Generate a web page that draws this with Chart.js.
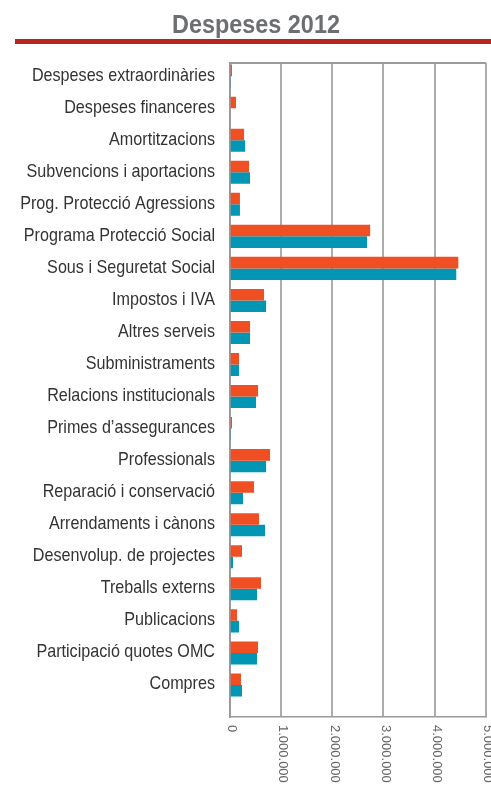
<!DOCTYPE html>
<html>
<head>
<meta charset="utf-8">
<script src="https://cdn.jsdelivr.net/npm/chart.js@4/dist/chart.umd.min.js"></script>
<style>
  html, body { margin: 0; padding: 0; background: #ffffff; }
  #wrap { position: relative; width: 491px; height: 791px; }
</style>
</head>
<body>
<div id="wrap"><canvas id="c"></canvas></div>
<script>
// ---- data ----
const categories = [
  "Despeses extraordinàries",
  "Despeses financeres",
  "Amortitzacions",
  "Subvencions i aportacions",
  "Prog. Protecció Agressions",
  "Programa Protecció Social",
  "Sous i Seguretat Social",
  "Impostos i IVA",
  "Altres serveis",
  "Subministraments",
  "Relacions institucionals",
  "Primes d’assegurances",
  "Professionals",
  "Reparació i conservació",
  "Arrendaments i cànons",
  "Desenvolup. de projectes",
  "Treballs externs",
  "Publicacions",
  "Participació quotes OMC",
  "Compres"
];
const seriesOrange = [45000, 123000, 280000, 377000, 200000, 2740000, 4460000, 670000, 397000, 182000, 553000, 45000, 787000, 475000, 572000, 240000, 611000, 143000, 553000, 220000];
const seriesTeal   = [25000, 0, 300000, 397000, 200000, 2680000, 4420000, 710000, 397000, 182000, 514000, 25000, 710000, 260000, 690000, 65000, 533000, 182000, 533000, 240000];
const xTicks = [0, 1000000, 2000000, 3000000, 4000000, 5000000];
const titleText = "Despeses 2012";

const fmt = v => String(v).replace(/\B(?=(\d{3})+(?!\d))/g, ".");
const toPoints = arr => arr.map((v, i) => ({ x: v, y: i }));

const decor = {
  id: 'decor',
  beforeDraw(chart) {
    const ctx = chart.ctx;
    ctx.save();
    ctx.fillStyle = '#ffffff';
    ctx.fillRect(0, 0, chart.width, chart.height);
    // title (condensed look)
    ctx.fillStyle = '#6d6e71';
    ctx.font = 'bold 26px "Liberation Sans", Arial, sans-serif';
    ctx.textAlign = 'center';
    ctx.textBaseline = 'alphabetic';
    ctx.translate(256, 32.5);
    ctx.scale(0.9, 1);
    ctx.fillText(titleText, 0, 0);
    ctx.restore();
    // red rule
    ctx.save();
    ctx.fillStyle = '#b5261e';
    ctx.fillRect(15, 39, chart.width - 15, 5);
    ctx.restore();
  },
  afterDraw(chart) {
    const ctx = chart.ctx;
    const xs = chart.scales.x;
    const ys = chart.scales.y;
    const area = chart.chartArea;
    ctx.save();
    // top border of plot box
    ctx.strokeStyle = '#9c9a9a';
    ctx.lineWidth = 2;
    ctx.beginPath();
    ctx.moveTo(area.left, area.top);
    ctx.lineTo(area.right, area.top);
    ctx.stroke();
    // rotated x tick labels (reading top to bottom)
    ctx.fillStyle = '#666666';
    ctx.font = '13px "Liberation Sans", Arial, sans-serif';
    ctx.textAlign = 'left';
    ctx.textBaseline = 'middle';
    xs.ticks.forEach(t => {
      const px = xs.getPixelForValue(t.value);
      ctx.save();
      ctx.translate(px + 2, area.bottom + 8);
      ctx.rotate(Math.PI / 2);
      ctx.fillText(fmt(t.value), 0, 0);
      ctx.restore();
    });
    // category labels (condensed)
    ctx.fillStyle = '#333333';
    ctx.font = '19px "Liberation Sans", Arial, sans-serif';
    ctx.textAlign = 'right';
    ctx.textBaseline = 'alphabetic';
    ys.ticks.forEach(t => {
      const py = ys.getPixelForValue(t.value);
      ctx.save();
      ctx.translate(215, py + 4.5);
      ctx.scale(0.85, 1);
      ctx.fillText(categories[t.value], 0, 0);
      ctx.restore();
    });
    ctx.restore();
  }
};

new Chart(document.getElementById('c'), {
  type: 'bar',
  data: {
    datasets: [
      { label: '2012 a', data: toPoints(seriesOrange), backgroundColor: '#f04e23', borderWidth: 0, categoryPercentage: 0.72, barPercentage: 1.0 },
      { label: '2012 b', data: toPoints(seriesTeal), backgroundColor: '#0096b4', borderWidth: 0, categoryPercentage: 0.72, barPercentage: 1.0 }
    ]
  },
  options: {
    indexAxis: 'y',
    responsive: true,
    maintainAspectRatio: false,
    animation: false,
    layout: { padding: { top: 63, right: 5, left: 0, bottom: 0 } },
    plugins: { legend: { display: false }, tooltip: { enabled: false }, title: { display: false } },
    scales: {
      x: {
        type: 'linear',
        position: 'bottom',
        min: 0,
        max: 5000000,
        afterBuildTicks(scale) { scale.ticks = xTicks.map(v => ({ value: v })); },
        afterFit(scale) { scale.height = 74; },
        ticks: { display: false },
        grid: { color: '#aeabab', lineWidth: 2, drawTicks: false },
        border: { display: true, color: '#9c9a9a', width: 1.5 }
      },
      y: {
        type: 'linear',
        reverse: true,
        offset: false,
        min: -0.41,
        max: 20.0,
        afterBuildTicks(scale) { scale.ticks = categories.map((c, i) => ({ value: i })); },
        afterFit(scale) { scale.width = 229.7; },
        ticks: { display: false },
        grid: { display: false, drawTicks: false },
        border: { display: true, color: '#9c9a9a', width: 2 }
      }
    }
  },
  plugins: [decor]
});
</script>
</body>
</html>
